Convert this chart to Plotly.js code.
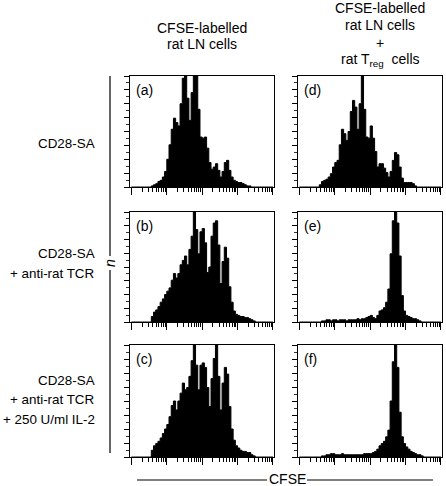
<!DOCTYPE html>
<html>
<head>
<meta charset="utf-8">
<script src="https://cdn.plot.ly/plotly-3.0.1.min.js"></script>
<style>html,body{margin:0;padding:0;background:#fff;}#chart{width:446px;height:486px;}</style>
</head>
<body>
<div id="chart"></div>
<script>
// 64 log-spaced channels over 4 decades of CFSE fluorescence (16 per decade)
var channelsPerDecade = 16;
var nChannels = 64;

var panelLabels = ["(a)", "(b)", "(c)", "(d)", "(e)", "(f)"];
var leftHeaderLines = ["CFSE-labelled", "rat LN cells"];
var rightHeaderLines = ["CFSE-labelled", "rat LN cells", "+", "rat T<sub>reg</sub>  cells"];
var row1Lines = ["CD28-SA"];
var row2Lines = ["CD28-SA", "+ anti-rat TCR"];
var row3Lines = ["CD28-SA", "+ anti-rat TCR", "+ 250 U/ml IL-2"];
var xAxisLabel = "CFSE";
var yAxisLabel = "n";

// cell counts (relative, % of tallest peak) per channel
var countsA = [0,0,0,0,0,0,0,0,0,
  1,2,3,5,6,9,14,25,38,52,62,58,55,75,98,100,80,60,85,100,100,70,45,44,45,35,22,16,18,21,15,9,14,22,24,15,9,6,5,4,4,3,2,1,1,
  0,0,0,0,0,0,0,0,0,0];
var countsB = [0,0,0,0,0,0,0,0,0,
  5,9,11,14,18,21,25,28,31,38,44,40,44,52,56,60,52,66,78,100,84,62,82,85,72,45,50,78,90,92,70,35,55,68,58,32,18,10,7,6,5,5,4,4,3,2,1,
  0,0,0,0,0,0,0,0];
var countsC = [0,0,0,0,0,0,0,0,0,
  6,10,12,14,17,21,25,29,36,46,50,42,50,57,66,60,62,72,86,100,82,60,82,84,80,62,45,70,88,100,72,42,66,80,74,45,25,15,10,8,6,5,5,4,4,2,1,
  0,0,0,0,0,0,0,0];
var countsD = [0,0,0,0,0,0,0,0,0,
  2,5,6,7,9,12,18,22,24,38,52,48,42,50,68,78,72,52,75,100,70,45,44,55,44,32,18,21,21,17,13,9,14,24,31,29,18,8,4,4,4,4,3,1,
  0,0,0,0,0,0,0,0,0,0,0];
var countsE = [0,0,0,0,0,0,0,0,0,0,
  1,1,2,2,1,2,2,1,2,2,2,1,2,2,2,2,3,2,
  3,3,4,5,6,4,3,6,10,11,13,18,30,62,92,100,90,60,24,10,6,5,4,3,3,2,1,
  0,0,0,0,0,0,0,0,0];
var countsF = [0,0,0,0,0,0,0,0,0,0,
  1,1,2,2,3,3,2,2,2,3,2,2,2,2,2,2,2,2,2,3,3,
  3,3,4,5,7,10,12,14,18,24,50,85,100,80,40,18,12,9,7,5,4,3,2,2,1,
  0,0,0,0,0,0,0,0];

var W = 446, H = 486;
function px(x){ return x / W; }
function py(y){ return 1 - y / H; }

// panel frames in pixels: [left, right], [top, bottom]
var colPx = [[130, 274], [298, 442]];
var rowPx = [[76, 187], [212, 322], [345, 457]];

// channel left edges (on a log axis)
var edges = [];
for (var i = 0; i <= nChannels; i++) edges.push(Math.pow(10, i / channelsPerDecade));

var allCounts = [countsA, countsB, countsC, countsD, countsE, countsF];
var FONT = "Liberation Sans, Arial, Helvetica, sans-serif";
var FS = 14;

var data = [];
var layout = {
  width: W, height: H,
  margin: {l: 0, r: 0, t: 0, b: 0},
  paper_bgcolor: "#fff", plot_bgcolor: "#fff",
  showlegend: false,
  font: {family: FONT, size: FS, color: "#000"},
  annotations: [], shapes: []
};

function addText(txt, x, y, anchor, size, extra) {
  var a = {
    text: txt, xref: "paper", yref: "paper",
    x: px(x), y: py(y), xanchor: anchor, yanchor: "middle", showarrow: false,
    borderpad: 0,
    font: {family: FONT, size: size || FS, color: "#000"}
  };
  if (extra) for (var k in extra) a[k] = extra[k];
  layout.annotations.push(a);
}

for (var p = 0; p < 6; p++) {
  var col = p < 3 ? 0 : 1;
  var row = p % 3;
  var idx = p + 1;
  var xa = "x" + (idx === 1 ? "" : idx);
  var ya = "y" + (idx === 1 ? "" : idx);
  data.push({
    type: "scatter", mode: "lines",
    x: edges, y: allCounts[p].concat([0]),
    line: {shape: "hv", color: "#000", width: 1},
    fill: "tozeroy", fillcolor: "#000",
    xaxis: xa, yaxis: ya, hoverinfo: "skip"
  });
  layout["xaxis" + (idx === 1 ? "" : idx)] = {
    type: "log",
    domain: [px(colPx[col][0]), px(colPx[col][1])],
    range: [-0.04, 4.03],
    anchor: ya,
    showline: true, mirror: true, linecolor: "#000", linewidth: 1.2,
    showgrid: false, zeroline: false,
    ticks: "outside", ticklen: 7, tickwidth: 1, tickcolor: "#000",
    dtick: 1, showticklabels: false,
    minor: {ticks: "outside", ticklen: 4, tickwidth: 1, tickcolor: "#000", dtick: "D1", showgrid: false}
  };
  layout["yaxis" + (idx === 1 ? "" : idx)] = {
    domain: [py(rowPx[row][1]), py(rowPx[row][0])],
    range: [0, 100],
    anchor: xa,
    showline: true, mirror: true, linecolor: "#000", linewidth: 1.2,
    showgrid: false, zeroline: false,
    ticks: "outside", ticklen: 5, tickwidth: 1, tickcolor: "#000",
    dtick: 12.5, showticklabels: false,
    minor: {ticks: "outside", ticklen: 2.5, tickwidth: 0.8, tickcolor: "#000", nticks: 5, showgrid: false}
  };
  addText(panelLabels[p], colPx[col][0] + 5, rowPx[row][0] + 14, "left");
}

// column headers
var leftHeaderY = [28, 44];
for (var j = 0; j < leftHeaderLines.length; j++) addText(leftHeaderLines[j], 202, leftHeaderY[j], "center");
var rightHeaderY = [8, 25, 43, 60];
for (var j = 0; j < rightHeaderLines.length; j++) addText(rightHeaderLines[j], 380, rightHeaderY[j], "center");

// row labels (right aligned)
var rowY = [[143], [253, 273], [380, 399, 419]];
var rowTexts = [row1Lines, row2Lines, row3Lines];
for (var r = 0; r < 3; r++)
  for (var j = 0; j < rowTexts[r].length; j++) addText(rowTexts[r][j], 96, rowY[r][j], "right", 13.4);

// n axis label with vertical bar
addText("<i>" + yAxisLabel + "</i>", 110, 263, "center", FS, {textangle: -90});
layout.shapes.push({type: "line", xref: "paper", yref: "paper", x0: px(110), x1: px(110), y0: py(76), y1: py(256), line: {color: "#000", width: 1.2}});
layout.shapes.push({type: "line", xref: "paper", yref: "paper", x0: px(110), x1: px(110), y0: py(270), y1: py(453), line: {color: "#000", width: 1.2}});

// CFSE axis label with horizontal bar
addText(xAxisLabel, 287, 479, "center");
layout.shapes.push({type: "line", xref: "paper", yref: "paper", x0: px(137), x1: px(267), y0: py(480), y1: py(480), line: {color: "#000", width: 1.2}});
layout.shapes.push({type: "line", xref: "paper", yref: "paper", x0: px(307), x1: px(433), y0: py(480), y1: py(480), line: {color: "#000", width: 1.2}});

Plotly.newPlot("chart", data, layout, {staticPlot: true, displayModeBar: false});
</script>
</body>
</html>
